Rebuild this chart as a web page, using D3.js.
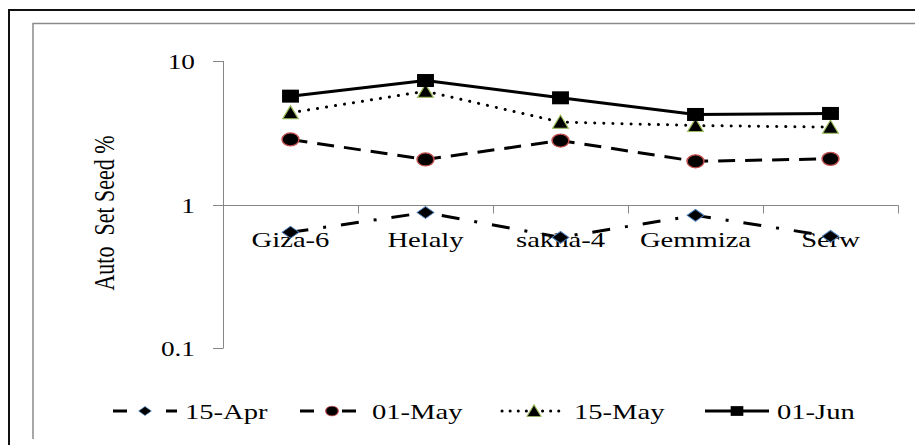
<!DOCTYPE html>
<html><head><meta charset="utf-8">
<script src="https://cdn.jsdelivr.net/npm/d3@7"></script>
<style>html,body{margin:0;padding:0;background:#fff;}svg{display:block;}</style>
</head><body>
<script>
const categories = ["Giza-6", "Helaly", "sakha-4", "Gemmiza", "Serw"];
const seriesNames = ["15-Apr", "01-May", "15-May", "01-Jun"];
const apr15 = [0.64, 0.88, 0.59, 0.84, 0.60];
const may01 = [2.84, 2.06, 2.79, 2.00, 2.08];
const may15 = [4.36, 6.16, 3.75, 3.55, 3.46];
const jun01 = [5.69, 7.31, 5.54, 4.24, 4.31];
const yTicks = [0.1, 1, 10];
const yTickLabels = ["0.1", "1", "10"];
const yTitle = "Auto  Set Seed %";

const W = 915, H = 445, SX = 1.3;
const svg = d3.select("body").append("svg").attr("width", W).attr("height", H);
const FONT = "'Liberation Serif','Times New Roman',serif";

// frames
svg.append("path").attr("d", `M9,${H} V10 H${W}`).attr("fill","none").attr("stroke","#111").attr("stroke-width",2);
svg.append("path").attr("d", `M33,439 V23.5 H${W}`).attr("fill","none").attr("stroke","#8a8a8a").attr("stroke-width",1.5);

const x = d3.scaleBand().domain(categories).range([223, 898]).padding(0);
const y = d3.scaleLog().domain([0.1, 10]).range([348, 61]);
const cx = c => x(c) + x.bandwidth() / 2;
const axisColor = "#868686";

// y axis
svg.append("line").attr("x1",223.5).attr("x2",223.5).attr("y1",y(10)).attr("y2",y(0.1)).attr("stroke",axisColor);
yTicks.forEach((t,i) => {
  svg.append("line").attr("x1",213).attr("x2",223.5).attr("y1",Math.round(y(t))+0.5).attr("y2",Math.round(y(t))+0.5).attr("stroke",axisColor);
  svg.append("text").attr("transform",`translate(195,${y(t)+8}) scale(${SX},1)`)
    .attr("text-anchor","end").attr("font-family",FONT).attr("font-size",21).attr("fill","#000").text(yTickLabels[i]);
});
// x axis at value 1
const y1 = Math.round(y(1)) + 0.5;
svg.append("line").attr("x1",223).attr("x2",898.5).attr("y1",y1).attr("y2",y1).attr("stroke",axisColor);
const bounds = categories.map(c => x(c) + x.bandwidth()).concat([]);
bounds.forEach(b => {
  svg.append("line").attr("x1",Math.round(b)+0.5).attr("x2",Math.round(b)+0.5).attr("y1",y1).attr("y2",y1+8).attr("stroke",axisColor);
});
categories.forEach(c => {
  svg.append("text").attr("transform",`translate(${cx(c)},247) scale(${SX},1)`)
    .attr("text-anchor","middle").attr("font-family",FONT).attr("font-size",22).attr("fill","#000").text(c);
});
// y title
svg.append("text").attr("transform",`translate(114,213) scale(${SX},1) rotate(-90)`)
  .attr("text-anchor","middle").attr("font-family",FONT).attr("font-size",22).attr("fill","#000")
  .style("white-space","pre").text(yTitle);

// marker drawing
function marker(g, type, px, py, k) {
  const t = g.append("g").attr("transform",`translate(${px},${py}) scale(${SX*k},${k})`);
  if (type === "diamond") t.append("path").attr("d","M0,-6 L6.5,0 L0,6 L-6.5,0Z").attr("fill","#000").attr("stroke","#4f81bd").attr("stroke-width",0.8);
  if (type === "circle") t.append("circle").attr("r",6.5).attr("fill","#000").attr("stroke","#c0504d").attr("stroke-width",1.2);
  if (type === "triangle") t.append("path").attr("d","M0,-7 L6,6 L-6,6Z").attr("fill","#000").attr("stroke","#9bbb59").attr("stroke-width",1);
  if (type === "square") t.append("rect").attr("x",-6.5).attr("y",-6.5).attr("width",13).attr("height",13).attr("fill","#000");
}

const series = [
  {name: seriesNames[0], values: apr15, dash: "18,15,3,15", cap: "butt", marker: "diamond"},
  {name: seriesNames[1], values: may01, dash: "17,10", cap: "butt", marker: "circle"},
  {name: seriesNames[2], values: may15, dash: "0.1,9", cap: "round", marker: "triangle"},
  {name: seriesNames[3], values: jun01, dash: null, cap: "butt", marker: "square"}
];
const line = d3.line().x((d,i) => cx(categories[i])).y(d => y(d));
series.forEach(s => {
  const p = svg.append("path").datum(s.values).attr("d", line).attr("fill","none")
    .attr("stroke","#000").attr("stroke-width",3).attr("stroke-linecap",s.cap).attr("stroke-linejoin","round");
  if (s.dash) p.attr("stroke-dasharray", s.dash);
  const g = svg.append("g");
  s.values.forEach((v,i) => marker(g, s.marker, cx(categories[i]), y(v), 1));
});

// legend
const legX = [113, 300, 502, 705];
const legY = 411;
series.forEach((s,i) => {
  const x0 = legX[i];
  const l = svg.append("line").attr("x1",x0).attr("x2",x0+64).attr("y1",legY).attr("y2",legY)
    .attr("stroke","#000").attr("stroke-width",3).attr("stroke-linecap",s.cap);
  if (s.marker === "diamond") l.attr("stroke-dasharray","14,39,14");
  if (s.marker === "circle") l.attr("stroke-dasharray","14,28,14");
  if (s.marker === "triangle") l.attr("stroke-dasharray","0.1,8");
  marker(svg, s.marker, x0+32, legY, s.marker === "triangle" ? 0.9 : 0.75);
  svg.append("text").attr("transform",`translate(${x0+72},${legY+7.5}) scale(${SX},1)`)
    .attr("font-family",FONT).attr("font-size",22).attr("fill","#000").text(s.name);
});
</script>
</body></html>
